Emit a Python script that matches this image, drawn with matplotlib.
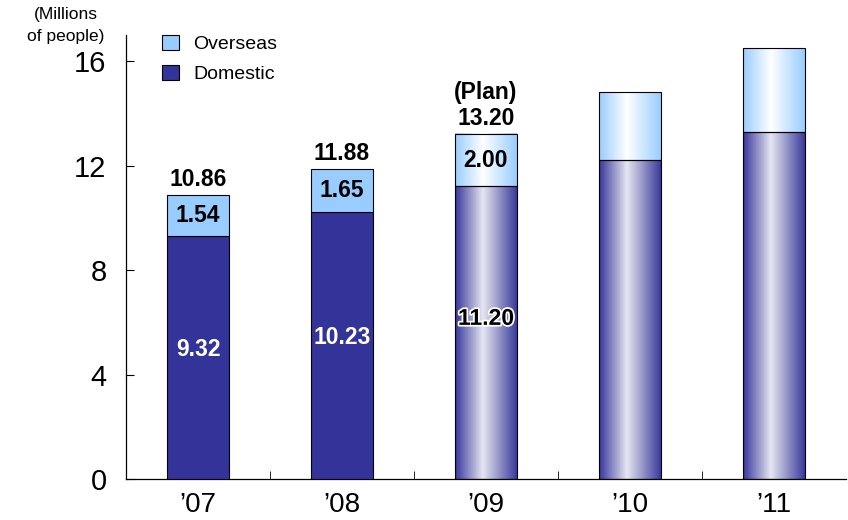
import matplotlib
matplotlib.use("Agg")
import matplotlib.pyplot as plt
import matplotlib.patheffects as pe
from matplotlib.colors import LinearSegmentedColormap
from matplotlib.patches import Rectangle
import numpy as np

plt.rcParams['font.family'] = ['Liberation Sans', 'DejaVu Sans']

years = ['\u201907', '\u201908', '\u201909', '\u201910', '\u201911']
domestic = [9.32, 10.23, 11.20, 12.2, 13.3]
overseas = [1.54, 1.65, 2.00, 2.6, 3.2]
# which years are drawn as shaded (plan / forecast) bars
shaded = [False, False, True, True, True]
# which years carry value labels
labelled = [True, True, True, False, False]

DARK = '#333399'
LIGHT = '#99CCFF'

dom_cmap = LinearSegmentedColormap.from_list(
    'dom', [(0, '#35359a'), (0.45, '#e6e6f2'), (1, '#3a3a9c')])
ovs_cmap = LinearSegmentedColormap.from_list(
    'ovs', [(0, '#99ccff'), (0.45, '#ffffff'), (1, '#99ccff')])
grad = np.linspace(0, 1, 256).reshape(1, -1)

fig = plt.figure(figsize=(8.48, 5.2), dpi=100)
ax = fig.add_axes([0.1486, 0.0788, 0.849, 0.854])

x = np.arange(len(years))
width = 0.43
totals = [d + o for d, o in zip(domestic, overseas)]
LBL = 16.5

for i in range(len(years)):
    x0 = x[i] - width / 2
    d, o = domestic[i], overseas[i]
    if shaded[i]:
        ax.imshow(grad, cmap=dom_cmap, extent=[x0, x0 + width, 0, d],
                  aspect='auto', interpolation='bilinear', zorder=2)
        ax.imshow(grad, cmap=ovs_cmap, extent=[x0, x0 + width, d, d + o],
                  aspect='auto', interpolation='bilinear', zorder=2)
        ax.add_patch(Rectangle((x0, 0), width, d, fill=False,
                               edgecolor='black', linewidth=0.8, zorder=3))
        ax.add_patch(Rectangle((x0, d), width, o, fill=False,
                               edgecolor='black', linewidth=0.8, zorder=3))
    else:
        ax.bar(x[i], d, width, color=DARK, edgecolor='black', linewidth=0.8, zorder=3)
        ax.bar(x[i], o, width, bottom=d, color=LIGHT, edgecolor='black',
               linewidth=0.8, zorder=3)

for i in range(len(years)):
    if not labelled[i]:
        continue
    d, o, t = domestic[i], overseas[i], totals[i]
    if shaded[i]:
        ax.text(x[i], d / 2 + 0.55, f'{d:.2f}', ha='center', va='center',
                fontsize=LBL, fontweight='bold', color='black', zorder=5,
                path_effects=[pe.withStroke(linewidth=2.5, foreground='white')])
        ax.text(x[i], t + 0.62, f'{t:.2f}', ha='center', va='center',
                fontsize=LBL, fontweight='bold', zorder=5)
        ax.text(x[i], t + 1.58, '(Plan)', ha='center', va='center',
                fontsize=LBL, fontweight='bold', zorder=5)
    else:
        ax.text(x[i], d / 2 + 0.3, f'{d:.2f}', ha='center', va='center',
                fontsize=LBL, fontweight='bold', color='white', zorder=5)
        ax.text(x[i], t + 0.6, f'{t:.2f}', ha='center', va='center',
                fontsize=LBL, fontweight='bold', zorder=5)
    ax.text(x[i], d + o / 2, f'{o:.2f}', ha='center', va='center',
            fontsize=LBL, fontweight='bold', zorder=5)

ax.set_xlim(-0.5, len(years) - 0.5)
ax.set_ylim(0, 17)
ax.set_yticks([0, 4, 8, 12, 16])
ax.set_xticks(x)
ax.set_xticklabels(years)
ax.set_xticks(x[:-1] + 0.5, minor=True)
ax.tick_params(axis='x', which='major', length=0, pad=9, labelsize=20)
ax.tick_params(axis='x', which='minor', direction='in', length=6)
ax.tick_params(axis='y', direction='in', length=6, pad=14, labelsize=21)

for side in ('top', 'right'):
    ax.spines[side].set_visible(False)
for side in ('left', 'bottom'):
    ax.spines[side].set_linewidth(0.9)

fig.text(0.078, 0.972, '(Millions', ha='center', va='center', fontsize=12.5)
fig.text(0.078, 0.929, 'of people)', ha='center', va='center', fontsize=12.5)

handles = [Rectangle((0, 0), 1, 1, facecolor=LIGHT, edgecolor='black', linewidth=0.8),
           Rectangle((0, 0), 1, 1, facecolor=DARK, edgecolor='black', linewidth=0.8)]
fig.legend(handles, ['Overseas', 'Domestic'], loc='upper left',
           bbox_to_anchor=(0.180, 0.952), frameon=False, fontsize=14,
           handlelength=0.85, handleheight=0.85, handletextpad=0.75,
           labelspacing=0.6, borderpad=0)

fig.savefig('out.png', dpi=100)
